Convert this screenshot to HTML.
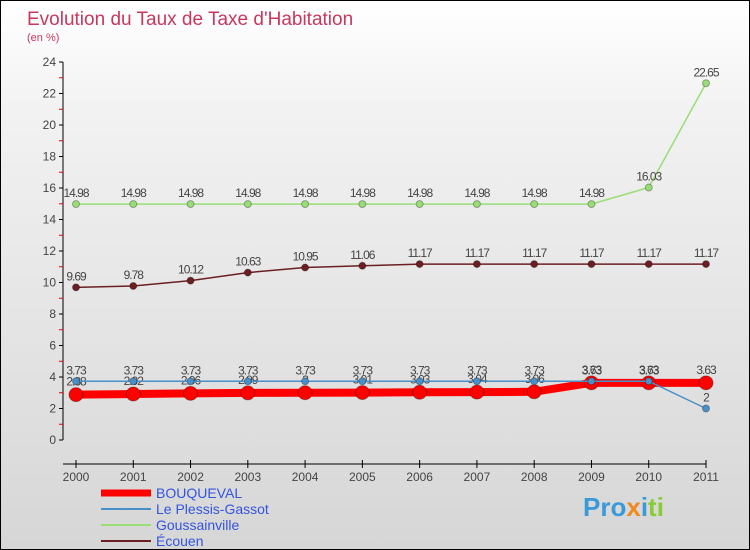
<!DOCTYPE html>
<html><head><meta charset="utf-8"><style>
body{margin:0;}
#c{width:748px;height:548px;border:1px solid #000;background:linear-gradient(#fff 0%,#f2f2f2 20%,#d6d6d6 100%);position:relative;font-family:"Liberation Sans",sans-serif;overflow:hidden}
</style></head><body>
<div id="c">
<svg id="s" width="748" height="548" xmlns="http://www.w3.org/2000/svg">
<text x="26" y="24" font-size="19" fill="#c8385e">Evolution du Taux de Taxe d'Habitation</text>
<text x="26" y="40" font-size="11" fill="#c8385e">(en %)</text>
<g id="axes"></g><g id="series"></g>
<g>
<line x1="100" y1="492" x2="150" y2="492" stroke="#f00" stroke-width="7"/>
<text x="155" y="497" font-size="14" fill="#3355dd">BOUQUEVAL</text>
<line x1="100" y1="508" x2="150" y2="508" stroke="#4a90c8" stroke-width="2"/>
<text x="155" y="513" font-size="14" fill="#3355dd">Le Plessis-Gassot</text>
<line x1="100" y1="524" x2="150" y2="524" stroke="#99dd77" stroke-width="2"/>
<text x="155" y="529" font-size="14" fill="#3355dd">Goussainville</text>
<line x1="100" y1="540" x2="150" y2="540" stroke="#6b1f22" stroke-width="2"/>
<text x="155" y="545" font-size="14" fill="#3355dd">Écouen</text>
</g>
<text x="582" y="515" font-size="26" font-weight="bold" fill="#3a9ad9">Pro<tspan fill="#f08a1c">x</tspan><tspan fill="#3a9ad9">i</tspan><tspan fill="#88cc33">ti</tspan></text>
</svg>
</div>
<script>
const years=["2000","2001","2002","2003","2004","2005","2006","2007","2008","2009","2010","2011"];
const bouqueval=[2.88,2.92,2.96,2.99,3,3.01,3.03,3.04,3.06,3.63,3.63,3.63];
const plessis=[3.73,3.73,3.73,3.73,3.73,3.73,3.73,3.73,3.73,3.73,3.73,2];
const goussainville=[14.98,14.98,14.98,14.98,14.98,14.98,14.98,14.98,14.98,14.98,16.03,22.65];
const ecouen=[9.69,9.78,10.12,10.63,10.95,11.06,11.17,11.17,11.17,11.17,11.17,11.17];
const yTicks=[0,2,4,6,8,10,12,14,16,18,20,22,24];
const NS="http://www.w3.org/2000/svg";
function X(i){return 75+i*(630/11);}
function Y(v){return 439-v*(378/24);}
function mk(tag,attrs,parent){const e=document.createElementNS(NS,tag);for(const k in attrs)e.setAttribute(k,attrs[k]);parent.appendChild(e);return e;}
const ax=document.getElementById('axes'),sg=document.getElementById('series');
let a=mk('line',{x1:62,y1:Y(24),x2:62,y2:Y(0),stroke:'#000'},ax);

let b=mk('line',{x1:62,y1:463,x2:X(11),y2:463,stroke:'#000'},ax);

yTicks.forEach(v=>{mk('line',{x1:58,y1:Y(v),x2:62,y2:Y(v),stroke:'#000'},ax);
const t=mk('text',{x:55,y:Y(v)+4,'font-size':12,fill:'#444','text-anchor':'end'},ax);t.textContent=v;

if(v<24)mk('line',{x1:58,y1:Y(v+1),x2:62,y2:Y(v+1),stroke:'#e00'},ax);});
years.forEach((y,i)=>{mk('line',{x1:X(i),y1:459,x2:X(i),y2:467,stroke:'#000'},ax);
const t=mk('text',{x:X(i),y:480,'font-size':12,fill:'#444','text-anchor':'middle'},ax);t.textContent=y;
});
function series(name,data,color,w,r,labelOff){
const g=mk('g',{},sg);
mk('polyline',{points:data.map((v,i)=>X(i)+','+Y(v)).join(' '),fill:'none',stroke:color,'stroke-width':w},g);
data.forEach((v,i)=>{const c=mk('circle',{cx:X(i),cy:Y(v),r:r,fill:color,stroke:'rgba(0,0,0,0.3)'},g);

const t=mk('text',{x:X(i),y:Y(v)+labelOff,'font-size':12,fill:'#444','text-anchor':'middle','letter-spacing':'-1'},g);
t.textContent=String(v);});}
series('goussainville',goussainville,'#99dd77',1.5,3.5,-7);
series('ecouen',ecouen,'#6b1f22',1.5,3.5,-7);
series('bouqueval',bouqueval,'#f00',8,7,-9);
series('plessis',plessis,'#4a90c8',1.5,3.5,-7);
</script>
</body></html>
